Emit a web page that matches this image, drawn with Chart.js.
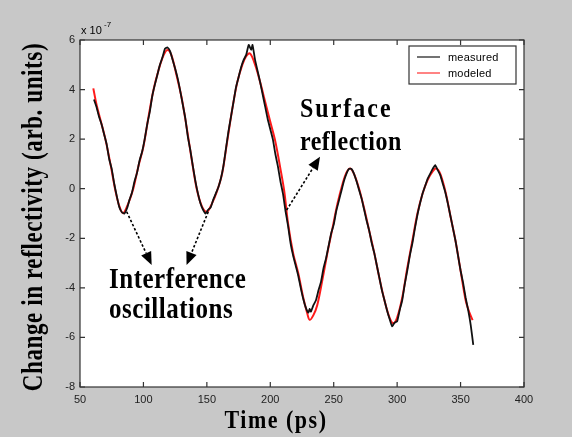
<!DOCTYPE html>
<html><head><meta charset="utf-8">
<script src="https://cdn.jsdelivr.net/npm/chart.js@4"></script>
<style>html,body{margin:0;padding:0;background:#c8c8c8;overflow:hidden}#wrap{width:572px;height:437px;position:relative}</style>
</head><body><div id="wrap"><canvas id="c" width="572" height="437"></canvas></div>
<script>
// Values in units of 1e-7
const seriesLabels = ['measured', 'modeled'];
const measuredTime = [61,63,65,67,69,71,73,75,77,79,81,83,85,87,89,91,93,95,97,99,101,103,105,107,109,111,113,115,117,119,121,123,125,127,129,131,133,135,137,139,141,143,145,147,149,151,153,155,157,159,161,163,165,167,169,171,173,175,177,179,181,183,185,186,188,190,192,194,196,198,200,202,204,206,208,210,212,214,216,218,220,222,224,226,228,230,231,232,234,236,238,240,242,244,246,248,250,252,254,256,258,260,262,264,266,268,270,272,274,276,278,280,282,284,286,288,290,292,294,296,298,300,302,304,306,308,310,312,314,316,318,320,322,324,326,328,330,332,334,336,338,340,342,344,346,348,350,352,354,356,358,360];
const measuredValue = [3.6,3.3,2.9,2.6,2.2,1.8,1.2,0.8,0.2,-0.3,-0.75,-0.95,-1.0,-0.8,-0.45,-0.15,0.3,0.65,1.15,1.5,2.0,2.6,3.1,3.75,4.2,4.6,5.0,5.3,5.65,5.7,5.55,5.2,4.85,4.45,3.95,3.4,2.85,2.1,1.55,0.9,0.3,-0.2,-0.6,-0.85,-1.0,-0.85,-0.75,-0.45,-0.2,0.05,0.4,0.9,1.6,2.3,2.9,3.5,4.1,4.5,4.9,5.2,5.4,5.8,5.6,5.8,5.2,4.75,4.3,3.8,3.3,2.8,2.4,2.0,1.4,0.9,0.3,-0.2,-0.9,-1.5,-2.2,-2.7,-3.1,-3.5,-4.0,-4.45,-4.8,-5.0,-4.85,-4.96,-4.7,-4.5,-4.1,-3.75,-3.2,-2.8,-2.3,-1.8,-1.45,-0.9,-0.5,-0.1,0.3,0.6,0.8,0.8,0.6,0.3,-0.05,-0.4,-0.85,-1.3,-1.7,-2.2,-2.6,-3.1,-3.6,-4.1,-4.5,-4.9,-5.25,-5.55,-5.4,-5.35,-4.9,-4.5,-3.85,-3.3,-2.7,-2.2,-1.6,-1.05,-0.6,-0.2,0.1,0.4,0.6,0.8,0.95,0.75,0.55,0.2,-0.15,-0.6,-1.1,-1.6,-2.1,-2.7,-3.3,-3.8,-4.4,-4.9,-5.5,-6.3];
const modeledTime = [60.5,63,66,70,74,78,81,84,88,92,96,100,104,108,112,116,119,122,126,130,134,138,142,146,150,154,158,162,166,170,174,178,181,184,188,192,196,200,204,208,211,214,218,222,226,229,231,234,237,241,245,249,253,257,260,263,266,270,274,278,282,286,290,294,297,300,304,308,312,316,320,324,328,331,334,338,342,346,350,354,357,359.5];
const modeledValue = [4.05,3.4,2.8,2.0,1.0,-0.1,-0.7,-0.99,-0.6,0,0.9,1.7,2.9,4.0,4.8,5.4,5.6,5.4,4.6,3.7,2.5,1.2,0,-0.7,-0.93,-0.6,-0.1,0.6,1.9,3.2,4.3,5.0,5.35,5.46,5.0,4.3,3.5,2.7,1.9,0.8,-0.1,-1.4,-2.6,-3.4,-4.4,-5.0,-5.29,-5.1,-4.7,-3.7,-2.6,-1.6,-0.6,0.2,0.65,0.82,0.6,0.0,-0.8,-1.7,-2.6,-3.6,-4.5,-5.2,-5.43,-5.2,-4.4,-3.2,-2.1,-1.0,-0.2,0.35,0.7,0.82,0.6,-0.1,-1.1,-2.1,-3.3,-4.5,-5.0,-5.3];
const xTicks = [50,100,150,200,250,300,350,400];
const yTicks = [-8,-6,-4,-2,0,2,4,6];
const xTitle = 'Time (ps)';
const yTitle = 'Change in reflectivity (arb. units)';
const exponentBase = 'x 10';
const exponentPower = '-7';
const notes = ['Surface', 'reflection', 'Interference', 'oscillations'];

function txt(ctx, s, x, y, font, sy, align, spacing, rot) {
  ctx.save();
  ctx.translate(x, y);
  if (rot) ctx.rotate(-Math.PI / 2);
  ctx.scale(1, sy);
  ctx.font = font;
  ctx.letterSpacing = (spacing || 0) + 'px';
  ctx.textAlign = align;
  ctx.textBaseline = 'middle';
  ctx.fillStyle = '#000';
  ctx.fillText(s, 0, 0);
  ctx.restore();
}
function arrow(ctx, x1, y1, x2, y2) {
  const a = Math.atan2(y2 - y1, x2 - x1);
  const L = 13, W = 5.5;
  const bx = x2 - L * Math.cos(a), by = y2 - L * Math.sin(a);
  ctx.save();
  ctx.strokeStyle = '#000'; ctx.lineWidth = 1.6; ctx.setLineDash([2.5, 2]);
  ctx.beginPath(); ctx.moveTo(x1, y1); ctx.lineTo(bx, by); ctx.stroke();
  ctx.setLineDash([]); ctx.fillStyle = '#000';
  ctx.beginPath(); ctx.moveTo(x2, y2);
  ctx.lineTo(bx + W * Math.sin(a), by - W * Math.cos(a));
  ctx.lineTo(bx - W * Math.sin(a), by + W * Math.cos(a));
  ctx.closePath(); ctx.fill();
  ctx.restore();
}

const decor = {
  id: 'decor',
  beforeDraw(chart) {
    const {ctx, chartArea: a} = chart;
    ctx.save(); ctx.fillStyle = '#fff';
    ctx.fillRect(a.left, a.top, a.right - a.left, a.bottom - a.top);
    ctx.restore();
  },
  afterDraw(chart) {
    const {ctx, chartArea: a, scales: {x, y}} = chart;
    ctx.save();
    ctx.strokeStyle = '#333'; ctx.lineWidth = 1.2;
    ctx.strokeRect(a.left, a.top, a.right - a.left, a.bottom - a.top);
    ctx.beginPath();
    xTicks.forEach(t => { const p = x.getPixelForValue(t);
      ctx.moveTo(p, a.bottom); ctx.lineTo(p, a.bottom - 5);
      ctx.moveTo(p, a.top); ctx.lineTo(p, a.top + 5); });
    yTicks.forEach(v => { const p = y.getPixelForValue(v);
      ctx.moveTo(a.left, p); ctx.lineTo(a.left + 5, p);
      ctx.moveTo(a.right, p); ctx.lineTo(a.right - 5, p); });
    ctx.stroke();
    ctx.restore();
    // exponent
    txt(ctx, exponentBase, a.left + 1, a.top - 9, '11px "Liberation Sans"', 1, 'left', 0);
    txt(ctx, exponentPower, a.left + 24, a.top - 15, '8px "Liberation Sans"', 1, 'left', 0);
    // legend
    const bx = a.right - 115, by = a.top + 6, bw = 107, bh = 38;
    ctx.save();
    ctx.fillStyle = '#fff'; ctx.fillRect(bx, by, bw, bh);
    ctx.strokeStyle = '#333'; ctx.lineWidth = 1.2; ctx.strokeRect(bx, by, bw, bh);
    chart.data.datasets.forEach((d, i) => {
      const ly = by + 11 + i * 16;
      ctx.strokeStyle = i === 0 ? '#444' : '#ff5a5a'; ctx.lineWidth = 1.5;
      ctx.beginPath(); ctx.moveTo(bx + 8, ly); ctx.lineTo(bx + 31, ly); ctx.stroke();
      txt(ctx, d.label, bx + 39, ly + 1, '11px "Liberation Sans"', 1.05, 'left', 0.2);
    });
    ctx.restore();
    // axis titles
    txt(ctx, xTitle, 276, 421, 'bold 22px "Liberation Serif"', 1.15, 'center', 1.5);
    txt(ctx, yTitle, 35, 217, 'bold 23px "Liberation Serif"', 1.25, 'center', 0.6, true);
    // annotations
    const X = t => x.getPixelForValue(t), Y = v => y.getPixelForValue(v);
    const sf = 'bold 24px "Liberation Serif"';
    txt(ctx, notes[0], X(223.4), Y(3.18), sf, 1.1, 'left', 2);
    txt(ctx, notes[1], X(223.4), Y(1.84), sf, 1.1, 'left', 0.5);
    txt(ctx, notes[2], X(72.9), Y(-3.68), 'bold 25px "Liberation Serif"', 1.2, 'left', 0.5);
    txt(ctx, notes[3], X(72.9), Y(-4.89), 'bold 25px "Liberation Serif"', 1.2, 'left', 0.5);
    arrow(ctx, X(86.8), Y(-0.93), X(106.5), Y(-3.08));
    arrow(ctx, X(151.1), Y(-0.93), X(134.0), Y(-3.08));
    arrow(ctx, X(212.9), Y(-0.86), X(239.2), Y(1.29));
  }
};

new Chart(document.getElementById('c'), {
  type: 'line',
  data: {
    datasets: [
      { label: seriesLabels[0], data: measuredTime.map((t, i) => ({x: t, y: measuredValue[i]})),
        borderColor: '#111', borderWidth: 1.8, pointRadius: 0, tension: 0.15, fill: false },
      { label: seriesLabels[1], data: modeledTime.map((t, i) => ({x: t, y: modeledValue[i]})),
        borderColor: '#ff1a1a', borderWidth: 2, pointRadius: 0, tension: 0.35, fill: false }
    ]
  },
  options: {
    responsive: false, animation: false, devicePixelRatio: 1,
    layout: { padding: { top: 40, right: 48, left: 0, bottom: 0 } },
    plugins: { legend: { display: false }, tooltip: { enabled: false } },
    scales: {
      x: { type: 'linear', min: 50, max: 400,
        afterBuildTicks: s => { s.ticks = xTicks.map(v => ({value: v})); },
        afterFit: s => { s.height = 50; },
        grid: { display: false, drawTicks: false }, border: { display: false },
        ticks: { padding: 6, color: '#222', font: { family: 'Liberation Sans', size: 11 }, maxRotation: 0 } },
      y: { type: 'linear', min: -8, max: 6,
        afterBuildTicks: s => { s.ticks = yTicks.map(v => ({value: v})); },
        afterFit: s => { s.width = 80; },
        grid: { display: false, drawTicks: false }, border: { display: false },
        ticks: { padding: 5, color: '#222', font: { family: 'Liberation Sans', size: 11 } } }
    }
  },
  plugins: [decor]
});
</script></body></html>
